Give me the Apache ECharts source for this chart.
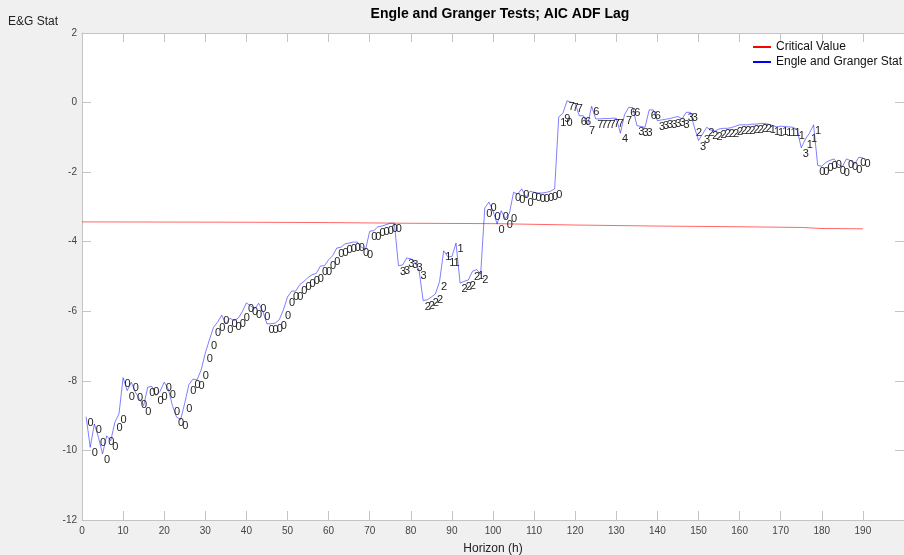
<!DOCTYPE html>
<html lang="en">
<head>
    <meta charset="UTF-8">
    <title>Engle and Granger Tests; AIC ADF Lag</title>
    <script src="https://cdn.jsdelivr.net/npm/echarts/dist/echarts.min.js"></script>
    <style>
        body { margin: 0; background: #f0f0f0; }
    </style>
</head>
<body>
    <div id="main" style="width:904px;height:555px;"></div>
</body>
    <script>
        // E&G statistic for horizon h = 1 .. 190
        var stat = [
            -9.03, -9.91, -9.24, -9.62, -10.10, -9.58, -9.72, -9.19, -8.95, -7.91,
            -8.28, -8.04, -8.33, -8.52, -8.71, -8.18, -8.16, -8.42, -8.30, -8.04,
            -8.23, -8.71, -9.04, -9.11, -8.64, -8.11, -7.95, -7.97, -7.68, -7.20,
            -6.82, -6.46, -6.31, -6.11, -6.36, -6.20, -6.27, -6.20, -6.01, -5.76,
            -5.84, -5.93, -5.77, -6.00, -6.36, -6.36, -6.34, -6.24, -5.96, -5.59,
            -5.42, -5.42, -5.23, -5.14, -5.03, -4.95, -4.91, -4.70, -4.69, -4.52,
            -4.40, -4.18, -4.16, -4.06, -4.04, -4.01, -4.01, -4.16, -4.22, -3.70,
            -3.68, -3.57, -3.55, -3.51, -3.47, -3.47, -4.69, -4.67, -4.47, -4.49,
            -4.59, -4.81, -5.69, -5.67, -5.59, -5.50, -5.14, -4.26, -4.43, -4.43,
            -4.04, -5.19, -5.14, -5.10, -4.85, -4.80, -4.93, -3.03, -2.86, -3.11,
            -3.49, -3.11, -3.34, -3.18, -2.58, -2.63, -2.48, -2.72, -2.55, -2.58,
            -2.60, -2.60, -2.58, -2.55, -2.48, -0.41, -0.31, 0.05, 0.01, -0.02,
            -0.38, -0.38, -0.64, -0.11, -0.47, -0.47, -0.46, -0.46, -0.45, -0.45,
            -0.88, -0.35, -0.14, -0.14, -0.66, -0.69, -0.71, -0.21, -0.21, -0.52,
            -0.50, -0.48, -0.46, -0.43, -0.40, -0.47, -0.28, -0.28, -0.71, -1.09,
            -0.90, -0.71, -0.79, -0.82, -0.76, -0.74, -0.74, -0.72, -0.68, -0.64,
            -0.64, -0.64, -0.62, -0.62, -0.60, -0.60, -0.62, -0.66, -0.70, -0.68,
            -0.69, -0.70, -0.71, -0.78, -1.30, -1.05, -0.88, -0.64, -1.81, -1.83,
            -1.72, -1.66, -1.62, -1.78, -1.84, -1.62, -1.67, -1.77, -1.57, -1.59
        ];
        // AIC chosen ADF lag, written next to each point
        var lag = [
            0, 0, 0, 0, 0, 0, 0, 0, 0, 0, 0, 0, 0, 0, 0, 0, 0, 0, 0, 0,
            0, 0, 0, 0, 0, 0, 0, 0, 0, 0, 0, 0, 0, 0, 0, 0, 0, 0, 0, 0,
            0, 0, 0, 0, 0, 0, 0, 0, 0, 0, 0, 0, 0, 0, 0, 0, 0, 0, 0, 0,
            0, 0, 0, 0, 0, 0, 0, 0, 0, 0, 0, 0, 0, 0, 0, 0, 3, 3, 3, 3,
            3, 3, 2, 2, 2, 2, 2, 1, 1, 1, 1, 2, 2, 2, 2, 1, 2, 0, 0, 0,
            0, 0, 0, 0, 0, 0, 0, 0, 0, 0, 0, 0, 0, 0, 0, 10, 9, 7, 7, 7,
            6, 6, 7, 6, 7, 7, 7, 7, 7, 7, 4, 7, 6, 6, 3, 3, 3, 6, 6, 3,
            3, 3, 3, 3, 3, 3, 3, 3, 2, 3, 3, 2, 2, 2, 2, 2, 2, 2, 2, 2,
            2, 2, 2, 2, 2, 2, 1, 1, 1, 1, 1, 1, 1, 1, 3, 1, 1, 1, 0, 0,
            0, 0, 0, 0, 0, 0, 0, 0, 0, 0
        ];
        // critical value, read at a few horizons
        var critH = [0, 40, 60, 80, 100, 120, 140, 160, 175, 180, 190];
        var critVal = [-3.43, -3.44, -3.45, -3.47, -3.48, -3.52, -3.55, -3.57, -3.59, -3.62, -3.63];

        var statData = stat.map(function (v, i) { return [i + 1, v]; });
        var critData = critH.map(function (h, i) { return [h, critVal[i]]; });

        var axisGray = '#c4c4c4';
        // MATLAB-like box: inward ticks on all four sides
        function boxAxis(extra) {
            var a = {
                type: 'value',
                axisLine: { show: true, onZero: false, lineStyle: { color: axisGray } },
                axisTick: { show: true, inside: true, length: 9, lineStyle: { color: axisGray } },
                axisLabel: { show: false },
                splitLine: { show: false }
            };
            for (var k in extra) a[k] = extra[k];
            return a;
        }

        var chart = echarts.init(document.getElementById("main"));
        chart.setOption({
            backgroundColor: '#f0f0f0',
            animation: false,
            textStyle: { fontFamily: 'Liberation Sans, Arial, sans-serif' },
            title: {
                text: 'Engle and Granger Tests; AIC ADF Lag',
                left: 495,
                top: 2,
                textAlign: 'center',
                textStyle: { fontSize: 14, fontWeight: 'bold', color: '#000' }
            },
            legend: {
                orient: 'vertical',
                left: 753,
                top: 40,
                padding: 0,
                icon: 'rect',
                itemWidth: 18,
                itemHeight: 2,
                itemGap: 1,
                textStyle: { fontSize: 12, color: '#111', lineHeight: 14 },
                data: [
                    { name: 'Critical Value', itemStyle: { color: '#ff0000' } },
                    { name: 'Engle and Granger Stat', itemStyle: { color: '#0000ff' } }
                ]
            },
            grid: {
                left: 82, right: 0, top: 33, bottom: 35,
                show: true, backgroundColor: '#fff', borderWidth: 0,
                outerBoundsMode: 'none'
            },
            xAxis: [
                boxAxis({
                    min: 0, max: 200, interval: 10, position: 'bottom',
                    name: 'Horizon (h)', nameLocation: 'middle', nameGap: 23,
                    nameTextStyle: { fontSize: 12, color: '#222' },
                    axisLabel: { show: true, margin: 6, fontSize: 10, color: '#444', showMaxLabel: false }
                }),
                boxAxis({ min: 0, max: 200, interval: 10, position: 'top' })
            ],
            yAxis: [
                boxAxis({
                    min: -12, max: 2, interval: 2, position: 'left',
                    name: 'E&G Stat', nameLocation: 'end', nameGap: 11,
                    nameTextStyle: { fontSize: 12, color: '#222', align: 'right', verticalAlign: 'middle', padding: [0, 24, 0, 0] },
                    axisLabel: { show: true, margin: 5, fontSize: 10, color: '#444' }
                }),
                boxAxis({ min: -12, max: 2, interval: 2, position: 'right' })
            ],
            series: [{
                name: 'Critical Value',
                type: 'line',
                data: critData,
                symbol: 'none',
                itemStyle: { color: '#ff0000' },
                lineStyle: { color: 'rgba(255, 0, 0, 0.6)', width: 1 },
                emphasis: { disabled: true }
            }, {
                name: 'Engle and Granger Stat',
                type: 'line',
                data: statData,
                symbol: 'circle',
                symbolSize: 1,
                showSymbol: true,
                itemStyle: { color: 'transparent' },
                lineStyle: { color: 'rgba(0, 0, 255, 0.5)', width: 1 },
                emphasis: { disabled: true },
                label: {
                    show: true,
                    position: [2, 6.5],
                    align: 'left',
                    verticalAlign: 'middle',
                    fontSize: 11,
                    color: '#222',
                    formatter: function (p) { return String(lag[p.dataIndex]); }
                }
            }]
        });
    </script>
</html>
